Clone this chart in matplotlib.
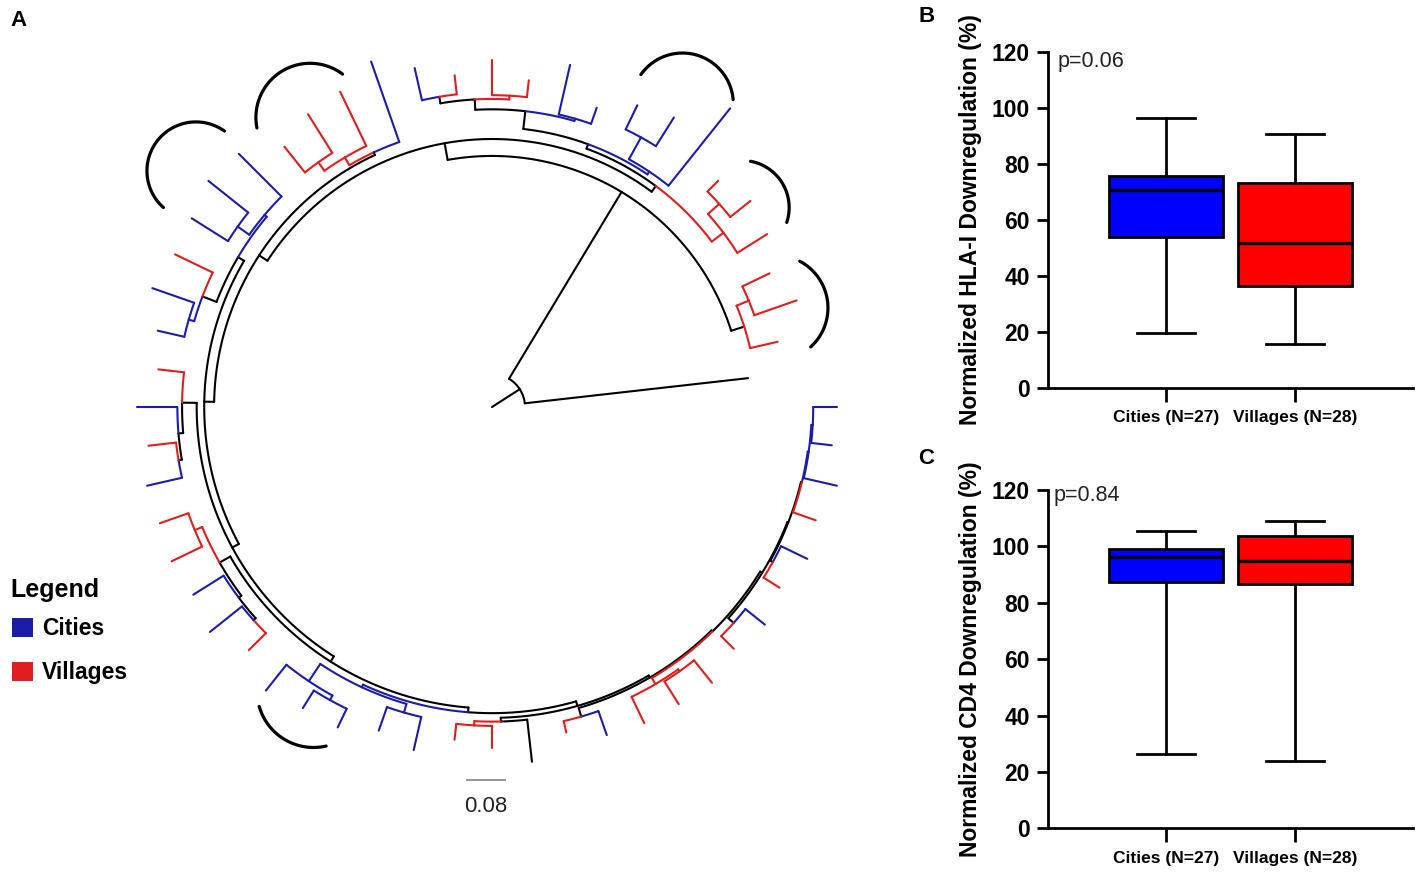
import numpy as np
import matplotlib
matplotlib.use("Agg")
import matplotlib.pyplot as plt
from matplotlib.patches import Patch

plt.rcParams['font.family'] = ['Liberation Sans', 'DejaVu Sans']

# ------------------------------------------------------------------ data
# Box plots (B: HLA-I, C: CD4)
categories = ["Cities (N=27)", "Villages (N=28)"]
hla_whislo = [19.5, 15.7]
hla_q1 = [53.8, 36.4]
hla_med = [70.6, 51.6]
hla_q3 = [75.6, 73.0]
hla_whishi = [96.2, 90.5]
hla_pvalue = "p=0.06"
cd4_whislo = [26.2, 24.0]
cd4_q1 = [87.5, 86.6]
cd4_med = [96.3, 94.8]
cd4_q3 = [99.0, 103.7]
cd4_whishi = [105.6, 109.1]
cd4_pvalue = "p=0.84"
y_ticks = [0, 20, 40, 60, 80, 100, 120]

# Phylogenetic tree: 56 tips in clockwise order (C = city, V = village, O = other)
leaf_group = ['C', 'C', 'C', 'V', 'C', 'V', 'C', 'V', 'V', 'V',
              'V', 'C', 'V', 'O', 'V', 'V', 'C', 'C', 'C', 'C',
              'C', 'V', 'C', 'C', 'V', 'V', 'C', 'V', 'C', 'V',
              'C', 'C', 'V', 'C', 'C', 'C', 'V', 'V', 'V', 'C',
              'C', 'V', 'V', 'V', 'C', 'C', 'C', 'C', 'C', 'V',
              'V', 'V', 'V', 'V', 'V', 'O']
# distance of every tip from the root (substitutions/site)
leaf_depth = [0.732, 0.726, 0.751, 0.728, 0.743, 0.721, 0.741, 0.726, 0.749, 0.745,
              0.745, 0.738, 0.709, 0.758, 0.724, 0.711, 0.747, 0.728, 0.755, 0.755,
              0.770, 0.730, 0.766, 0.749, 0.755, 0.747, 0.751, 0.734, 0.753, 0.713,
              0.728, 0.764, 0.747, 0.753, 0.770, 0.760, 0.707, 0.734, 0.743, 0.777,
              0.738, 0.709, 0.736, 0.698, 0.745, 0.673, 0.711, 0.726, 0.811, 0.679,
              0.702, 0.690, 0.654, 0.685, 0.622, 0.547]

# clades: [node depth, child, child, ...]; integers are tip numbers (1-based)
clade_c1 = [0.562, [0.590, 53, 54], 55]
clade_r = [0.615, [0.647, 50, 51], 52]
clade_xt = [0.632, [0.654, [0.668, 41, 42], [0.662, 43, 44]], [0.637, 45, 46]]
clade_xb = [0.601, [0.654, 47, 48], 49]
clade_x = [0.594, clade_xt, clade_xb]
clade_e = [0.584, clade_x, clade_r]
clade_t = [0.596, [0.615, [0.637, 37, 38], 39], 40]
clade_u = [0.626, [0.658, [0.670, 31, 32], 33], [0.632, [0.662, 34, 35], 36]]
clade_v = [0.658, [0.668, [0.675, 27, 28], 29], 30]
clade_w = [0.666, [0.673, [0.679, 22, 23], 24], [0.683, 25, 26]]
clade_y = [0.656, [0.675, 17, 18], [0.700, [0.711, 19, 20], 21]]
clade_l5 = [0.677, [0.679, [0.682, 1, 2], 3], 4]
clade_l4 = [0.675, clade_l5, [0.681, 5, 6]]
clade_l3 = [0.673, clade_l4, [0.688, 7, 8]]
clade_l2 = [0.668, clade_l3, [0.683, [0.688, 9, 10], 11]]
clade_l1 = [0.665, clade_l2, [0.684, 12, 13]]
clade_l = [0.660, clade_l1, [0.668, 14, [0.677, 15, 16]]]
clade_k = [0.650, clade_l, clade_y]
clade_j = [0.640, clade_k, clade_w]
clade_i = [0.627, clade_j, clade_v]
clade_h = [0.611, clade_i, clade_u]
clade_g = [0.590, clade_h, clade_t]
clade_d = [0.569, clade_g, clade_e]
clade_b = [0.533, clade_d, clade_c1]
clade_a = [0.070, clade_b, 56]
tree_root = [0.0, clade_a]
# clades whose stem branch carries no location state
unresolved_stems = [clade_c1]

# highlighted clusters (first tip, last tip)
cluster_tips = [(34, 36), (37, 39), (47, 49), (50, 52), (53, 55), (19, 21)]
scale_bar_length = 0.08
legend_title = "Legend"
legend_labels = ["Cities", "Villages"]

# ------------------------------------------------------------------ style
TREE_BLUE = '#1c1caa'
TREE_RED = '#e01e1e'
BOX_BLUE = '#0000ff'
BOX_RED = '#ff0000'
GROUP_COLOR = {'C': TREE_BLUE, 'V': TREE_RED, 'O': 'black'}
PX_PER_UNIT = 471.0
CENTER_PX = (492.0, 407.0)
# cluster bracket geometry: centre radius, bracket radius, start/end offset (deg)
BRACKET_GEOM = [(0.804, 0.104, -87, 87), (0.726, 0.115, -69, 69),
                (0.760, 0.108, -53, 87), (0.679, 0.100, -57, 41),
                (0.637, 0.112, -67, 43), (0.712, 0.120, -42, 45)]

W, H = 1421, 876
fig = plt.figure(figsize=(W / 100, H / 100), dpi=100)

# ------------------------------------------------------------------ tree (A)
ax = fig.add_axes([0, 0, 940 / W, 1])
ax.set_xlim(-CENTER_PX[0] / PX_PER_UNIT, (940 - CENTER_PX[0]) / PX_PER_UNIT)
ax.set_ylim((CENTER_PX[1] - H) / PX_PER_UNIT, CENTER_PX[1] / PX_PER_UNIT)
ax.axis('off')

N_TIPS = len(leaf_group)
STEP = 360.0 / N_TIPS


def tip_angle(n):
    return -(n - 1) * STEP


def node_angle(node):
    if isinstance(node, int):
        return tip_angle(node)
    return 0.5 * (node_angle(node[1]) + node_angle(node[-1]))


def node_depth(node):
    return leaf_depth[node - 1] if isinstance(node, int) else node[0]


def tips_of(node):
    if isinstance(node, int):
        return [node]
    out = []
    for c in node[1:]:
        out += tips_of(c)
    return out


def node_color(node):
    if any(node is u for u in unresolved_stems):
        return 'black'
    groups = {leaf_group[n - 1] for n in tips_of(node)}
    return GROUP_COLOR[groups.pop()] if len(groups) == 1 else 'black'


def pol(r, deg):
    a = np.deg2rad(deg)
    return r * np.cos(a), r * np.sin(a)


TREE_LW = 1.5


def draw(node):
    r0 = node[0]
    a0 = node_angle(node)
    for c in node[1:]:
        ac = node_angle(c)
        rc = node_depth(c)
        col = node_color(c)
        if r0 > 0 and abs(ac - a0) > 1e-6:
            angs = np.linspace(a0, ac, int(abs(ac - a0) * 3) + 2)
            x, y = pol(r0, angs)
            ax.plot(x, y, color=col, lw=TREE_LW, solid_capstyle='round')
        x, y = pol(np.array([r0, rc]), ac)
        ax.plot(x, y, color=col, lw=TREE_LW, solid_capstyle='round')
        if not isinstance(c, int):
            draw(c)


draw(tree_root)

for (first, last), (rc, rho, o0, o1) in zip(cluster_tips, BRACKET_GEOM):
    mid = 0.5 * (tip_angle(first) + tip_angle(last))
    cx, cy = pol(rc, mid)
    phi = np.deg2rad(np.linspace(mid + o0, mid + o1, 100))
    ax.plot(cx + rho * np.cos(phi), cy + rho * np.sin(phi), color='black',
            lw=2.3, solid_capstyle='round')

# scale bar
sb_x0 = (467 - CENTER_PX[0]) / PX_PER_UNIT
sb_y = (CENTER_PX[1] - 780) / PX_PER_UNIT
ax.plot([sb_x0, sb_x0 + scale_bar_length], [sb_y, sb_y], color='#8c8c8c', lw=1.3)
ax.text(sb_x0 + scale_bar_length / 2, sb_y - 26 / PX_PER_UNIT, f"{scale_bar_length:.2f}",
        ha='center', va='center', fontsize=16, color='#222222')

# legend
fig.text(10 / W, 1 - 590 / H, legend_title, fontsize=18, fontweight='bold',
         ha='left', va='center')
handles = [Patch(facecolor=TREE_BLUE, edgecolor='none', label=legend_labels[0]),
           Patch(facecolor=TREE_RED, edgecolor='none', label=legend_labels[1])]
fig.legend(handles=handles, loc='upper left',
           bbox_to_anchor=(12 / W, 1 - 617 / H), frameon=False,
           prop={'weight': 'bold', 'size': 16.5},
           handlelength=0.9, handleheight=0.9,
           handletextpad=0.4, labelspacing=0.93, borderpad=0,
           borderaxespad=0)

# ------------------------------------------------------------------ box plots


def box_panel(rect, whislo, q1, med, q3, whishi, ylabel, ptext, pxy):
    bax = fig.add_axes(rect)
    stats = []
    for i in range(len(categories)):
        stats.append(dict(whislo=whislo[i], q1=q1[i], med=med[i], q3=q3[i],
                          whishi=whishi[i], fliers=[], label=categories[i]))
    bp = bax.bxp(stats, positions=[0, 1], widths=0.89, capwidths=0.45,
                 patch_artist=True, showfliers=False,
                 boxprops=dict(linewidth=2.0, edgecolor='black'),
                 medianprops=dict(color='black', linewidth=2.4),
                 whiskerprops=dict(color='black', linewidth=2.0),
                 capprops=dict(color='black', linewidth=2.0))
    for patch, col in zip(bp['boxes'], [BOX_BLUE, BOX_RED]):
        patch.set_facecolor(col)
    bax.set_xlim(-0.915, 1.915)
    bax.set_ylim(0, 120)
    bax.set_yticks(y_ticks)
    bax.set_yticklabels([str(t) for t in y_ticks], fontsize=16.5, fontweight='bold')
    bax.set_xticks([0, 1])
    bax.set_xticklabels(categories, fontsize=12.5, fontweight='bold')
    for s in ['top', 'right']:
        bax.spines[s].set_visible(False)
    for s in ['left', 'bottom']:
        bax.spines[s].set_linewidth(2.0)
    bax.tick_params(axis='y', length=8, width=2, pad=5)
    bax.tick_params(axis='x', length=10, width=2, pad=6)
    bax.set_ylabel(ylabel, fontsize=16.5, fontweight='bold')
    bax.yaxis.set_label_coords(-0.181, 0.5)
    bax.text(pxy[0], pxy[1], ptext, transform=bax.transAxes, ha='left',
             va='center', fontsize=15.5, color='#222222')
    return bax


box_panel([1048 / W, (H - 388) / H, 365 / W, 336.3 / H],
          hla_whislo, hla_q1, hla_med, hla_q3, hla_whishi,
          "Normalized HLA-I Downregulation (%)", hla_pvalue, (0.027, 0.972))
box_panel([1048 / W, (H - 828.3) / H, 365 / W, 338.3 / H],
          cd4_whislo, cd4_q1, cd4_med, cd4_q3, cd4_whishi,
          "Normalized CD4 Downregulation (%)", cd4_pvalue, (0.014, 0.985))

# panel letters
fig.text(10 / W, 1 - 20 / H, "A", fontsize=16, fontweight='bold', va='center', ha='left')
fig.text(918 / W, 1 - 16 / H, "B", fontsize=16, fontweight='bold', va='center', ha='left')
fig.text(918 / W, 1 - 458 / H, "C", fontsize=16, fontweight='bold', va='center', ha='left')

fig.savefig("out.png", dpi=100)
